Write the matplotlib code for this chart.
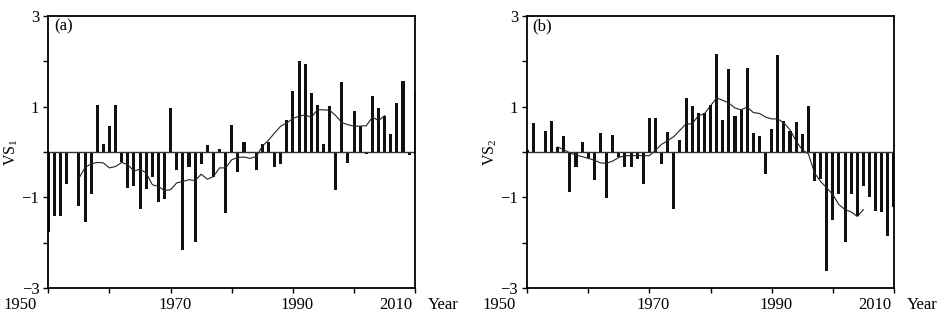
import numpy as np
import matplotlib.pyplot as plt
from matplotlib.transforms import ScaledTranslation

plt.rcParams.update({
    'font.family': 'Liberation Serif',
    'mathtext.fontset': 'custom',
    'mathtext.rm': 'Liberation Serif',
    'mathtext.it': 'Liberation Serif:italic',
    'font.size': 12})

# Years of the bars
years = np.arange(1950, 2011)

# (a) VS1 yearly values, 1950-2010
vs1 = [-1.77, -1.40, -1.42, -0.71, -0.02, -1.20, -1.54, -0.93, 1.04, 0.18,
       0.58, 1.04, -0.21, -0.80, -0.74, -1.26, -0.82, -0.54, -1.11, -1.04,
       0.96, -0.40, -2.17, -0.33, -1.99, -0.27, 0.16, -0.54, 0.07, -1.35,
       0.60, -0.44, 0.22, 0.00, -0.40, 0.18, 0.22, -0.33, -0.26, 0.70,
       1.35, 2.01, 1.93, 1.30, 1.04, 0.18, 1.02, -0.84, 1.55, -0.25,
       0.91, 0.57, -0.04, 1.24, 0.97, 0.80, 0.40, 1.09, 1.57, -0.07, 1.29]

# (b) VS2 yearly values, 1950-2010
vs2 = [0.05, 0.63, 0.00, 0.47, 0.69, 0.11, 0.36, -0.89, -0.33, 0.21,
       -0.14, -0.61, 0.42, -1.02, 0.38, -0.12, -0.34, -0.34, -0.16, -0.71,
       0.74, 0.76, -0.27, 0.45, -1.26, 0.27, 1.19, 1.02, 0.85, 0.85,
       1.04, 2.17, 0.71, 1.83, 0.80, 0.92, 1.85, 0.42, 0.36, -0.49,
       0.51, 2.13, 0.69, 0.46, 0.66, 0.40, 1.01, -0.63, -0.60, -2.63,
       -1.49, -0.93, -1.99, -0.93, -1.42, -0.76, -1.00, -1.31, -1.32, -1.86, -1.21]

# Smoothed curves, 1955-2005
smooth_years = np.arange(1955, 2006)
vs1_smooth = [-0.58, -0.34, -0.26, -0.23, -0.24,
              -0.35, -0.32, -0.23, -0.28, -0.42, -0.38, -0.46, -0.72, -0.76, -0.85,
              -0.83, -0.68, -0.65, -0.61, -0.63, -0.49, -0.60, -0.54, -0.35, -0.35,
              -0.17, -0.12, -0.11, -0.14, -0.10, 0.13, 0.26, 0.42, 0.57, 0.64,
              0.74, 0.79, 0.82, 0.76, 0.93, 0.93, 0.92, 0.80, 0.65, 0.60,
              0.57, 0.57, 0.58, 0.77, 0.69, 0.80]
vs2_smooth = [0.11, 0.05, -0.02, -0.07, -0.10,
              -0.14, -0.18, -0.24, -0.25, -0.20, -0.12, -0.08, -0.08, -0.08, -0.08,
              -0.08, 0.04, 0.17, 0.25, 0.34, 0.48, 0.62, 0.62, 0.80, 0.84,
              1.02, 1.19, 1.14, 1.08, 0.97, 0.93, 0.99, 0.87, 0.85, 0.77,
              0.73, 0.73, 0.64, 0.49, 0.24, 0.05, -0.04, -0.46, -0.65, -0.79,
              -0.94, -1.16, -1.27, -1.32, -1.42, -1.27]

panels = [('(a)', r'VS$_1$', vs1, vs1_smooth),
          ('(b)', r'VS$_2$', vs2, vs2_smooth)]

fig = plt.figure(figsize=(9.48, 3.18), dpi=100)
lefts = [0.051, 0.556]
# horizontal shift (pixels) of the year labels, as in the original figure
label_shift = [-28, 0, 4, 0, 4, 0, -19]

for left, (tag, ylab, vals, smooth) in zip(lefts, panels):
    ax = fig.add_axes([left, 0.094, 0.387, 0.856])
    ax.bar(years, vals, width=0.5, color='#111111')
    ax.plot(smooth_years, smooth, color='#222222', lw=0.8)
    ax.axhline(0, color='#333333', lw=1.0)

    ax.set_xlim(1950, 2010)
    ax.set_ylim(-3, 3)
    ax.set_xticks(np.arange(1950, 2011, 10))
    ax.set_xticklabels(['1950', '', '1970', '', '1990', '', '2010'])
    ax.set_yticks(np.arange(-3, 4, 1))
    ax.set_yticklabels(['\u22123', '', '\u22121', '', '1', '', '3'])
    ax.tick_params(direction='out', length=3.5, width=1, pad=3, labelsize=12)
    for lab, dx in zip(ax.get_xticklabels(), label_shift):
        lab.set_transform(lab.get_transform() + ScaledTranslation(dx / 100, 0, fig.dpi_scale_trans))
    for s in ax.spines.values():
        s.set_linewidth(1.3)

    ax.set_ylabel(ylab, fontsize=11.5, labelpad=1)
    ax.text(0.015, 0.99, tag, transform=ax.transAxes, ha='left', va='top', fontsize=12)
    ax.annotate('Year', xy=(1, 0), xycoords='axes fraction', xytext=(9, -6.5),
                textcoords='offset points', ha='left', va='top', fontsize=12)

fig.savefig('out.png', dpi=100)
